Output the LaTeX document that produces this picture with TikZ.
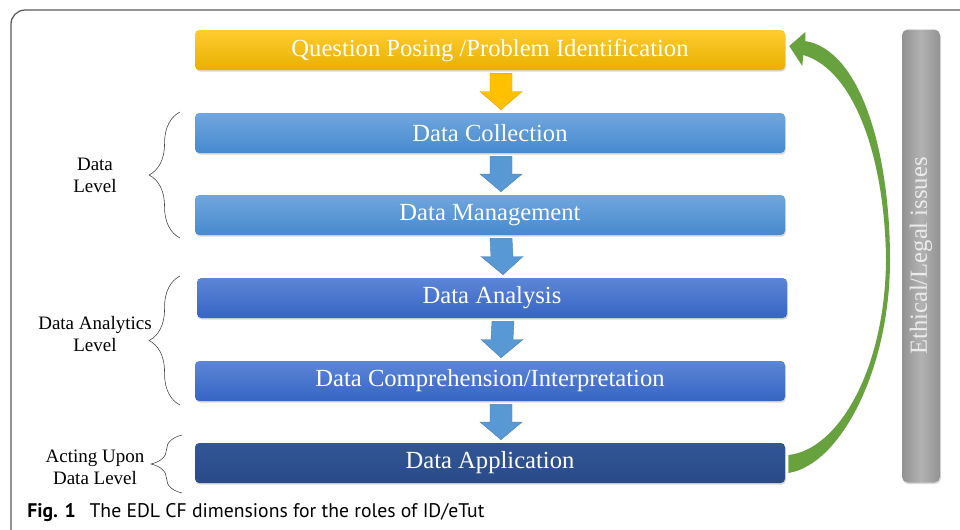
\documentclass[tikz,border=0pt]{standalone}
\usepackage{fontspec}
\setmainfont{Liberation Serif}
\newfontfamily\capfont{PT Sans}
\usetikzlibrary{calc,shadows,decorations.pathreplacing}

\definecolor{qtop}{RGB}{255,204,48}
\definecolor{qbot}{RGB}{232,176,0}
\definecolor{ltop}{RGB}{112,166,222}
\definecolor{lbot}{RGB}{70,138,206}
\definecolor{mtop}{RGB}{92,134,214}
\definecolor{mbot}{RGB}{54,100,196}
\definecolor{dtop}{RGB}{50,86,150}
\definecolor{dbot}{RGB}{42,74,136}
\definecolor{arrblue}{RGB}{88,152,212}
\definecolor{arryel}{RGB}{255,192,0}
\definecolor{loopgreen}{RGB}{104,162,62}
\definecolor{barlight}{RGB}{178,178,178}
\definecolor{bardark}{RGB}{146,146,146}
\definecolor{framegray}{RGB}{90,90,90}

\tikzset{
  stage/.style={rounded corners=3pt, minimum width=590*0.025cm,
    minimum height=40*0.025cm, text=white,
    font=\fontsize{17.5}{20}\selectfont,
    drop shadow={shadow xshift=0.6pt, shadow yshift=-1.2pt, opacity=0.3}},
  question/.style={stage, top color=qtop, bottom color=qbot},
  lightstage/.style={stage, top color=ltop, bottom color=lbot},
  midstage/.style={stage, top color=mtop, bottom color=mbot},
  darkstage/.style={stage, top color=dtop, bottom color=dbot},
  levelbrace/.style={decorate, decoration={brace, amplitude=22pt, aspect=0.5},
    draw=black!75, thin},
  levellabel/.style={align=center, font=\fontsize{13.5}{15.6}\selectfont},
}

% block arrow between two stages
\newcommand{\flowarrow}[3]{%
  \path ($(#2.south)+(11,3)$) coordinate (fa) ($(#3.north)+(11,-3)$) coordinate (fb);
  \filldraw[fill=#1, draw=#1!85!black, line width=0.3pt]
    ($(fa)+(-11,0)$) -- ($(fa)+(11,0)$) -- ($(fa)!.5!(fb)+(11,0)$)
    -- ($(fa)!.5!(fb)+(21,0)$) -- (fb) -- ($(fa)!.5!(fb)+(-21,0)$)
    -- ($(fa)!.5!(fb)+(-11,0)$) -- cycle;}

\begin{document}
\begin{tikzpicture}[x=0.025cm, y=-0.025cm]
  \useasboundingbox (0,0) rectangle (960,529);

  \draw[framegray, line width=0.9pt, rounded corners=10pt] (11,535) -- (11,10) -- (965,10);

  \node[question]   (q)    at (490,50)  {Question Posing /Problem Identification};
  \node[lightstage] (coll) at (490,133) {Data Collection};
  \node[lightstage] (man)  at (490,215) {Data Management};
  \node[midstage]   (ana)  at (492,298) {Data Analysis};
  \node[midstage]   (comp) at (490,381) {Data Comprehension/Interpretation};
  \node[darkstage]  (app)  at (490,463) {Data Application};

  \flowarrow{arryel}{q}{coll}
  \flowarrow{arrblue}{coll}{man}
  \flowarrow{arrblue}{man}{ana}
  \flowarrow{arrblue}{ana}{comp}
  \flowarrow{arrblue}{comp}{app}

  \node[rounded corners=4pt, rotate=90, minimum width=453*0.025cm,
        minimum height=38*0.025cm, left color=bardark, right color=bardark,
        middle color=barlight, text=white!92!black,
        font=\fontsize{17.5}{20}\selectfont,
        drop shadow={shadow xshift=0.6pt, shadow yshift=-1.2pt, opacity=0.3}]
        (ethic) at (921,256) {Ethical/Legal issues};

  % feedback loop
  \fill[loopgreen] ($(q.east)+(4,-4)$) -- ($(q.east)+(20,-18)$) -- ($(q.east)+(20,-9)$)
    .. controls (860,50) and (890,150) .. (890,260)
    .. controls (890,370) and (840,465) .. ($(app.east)+(3,10)$)
    -- ($(app.east)+(3,-8)$)
    .. controls (838,450) and (885,370) .. (886,260)
    .. controls (885,160) and (855,70) .. ($(q.east)+(18,5)$)
    -- ($(q.east)+(17,16)$) -- cycle;

  \draw[levelbrace] (180,238) -- (180,112);
  \draw[levelbrace] (180,405) -- (180,276);
  \draw[levelbrace] (182,493) -- (182,435);

  \node[levellabel] (datalvl) at (95,175) {Data\\Level};
  \node[levellabel] (analvl)  at (95,334) {Data Analytics\\Level};
  \node[levellabel] (actlvl)  at (95,467) {Acting Upon\\Data Level};

  \node[anchor=west, inner sep=0pt, font=\capfont\fontsize{14}{16}\selectfont]
    (cap) at (27,513) {\textbf{Fig. 1}\hspace{0.7em}The EDL CF dimensions for the roles of ID/eTut};
\end{tikzpicture}
\end{document}
